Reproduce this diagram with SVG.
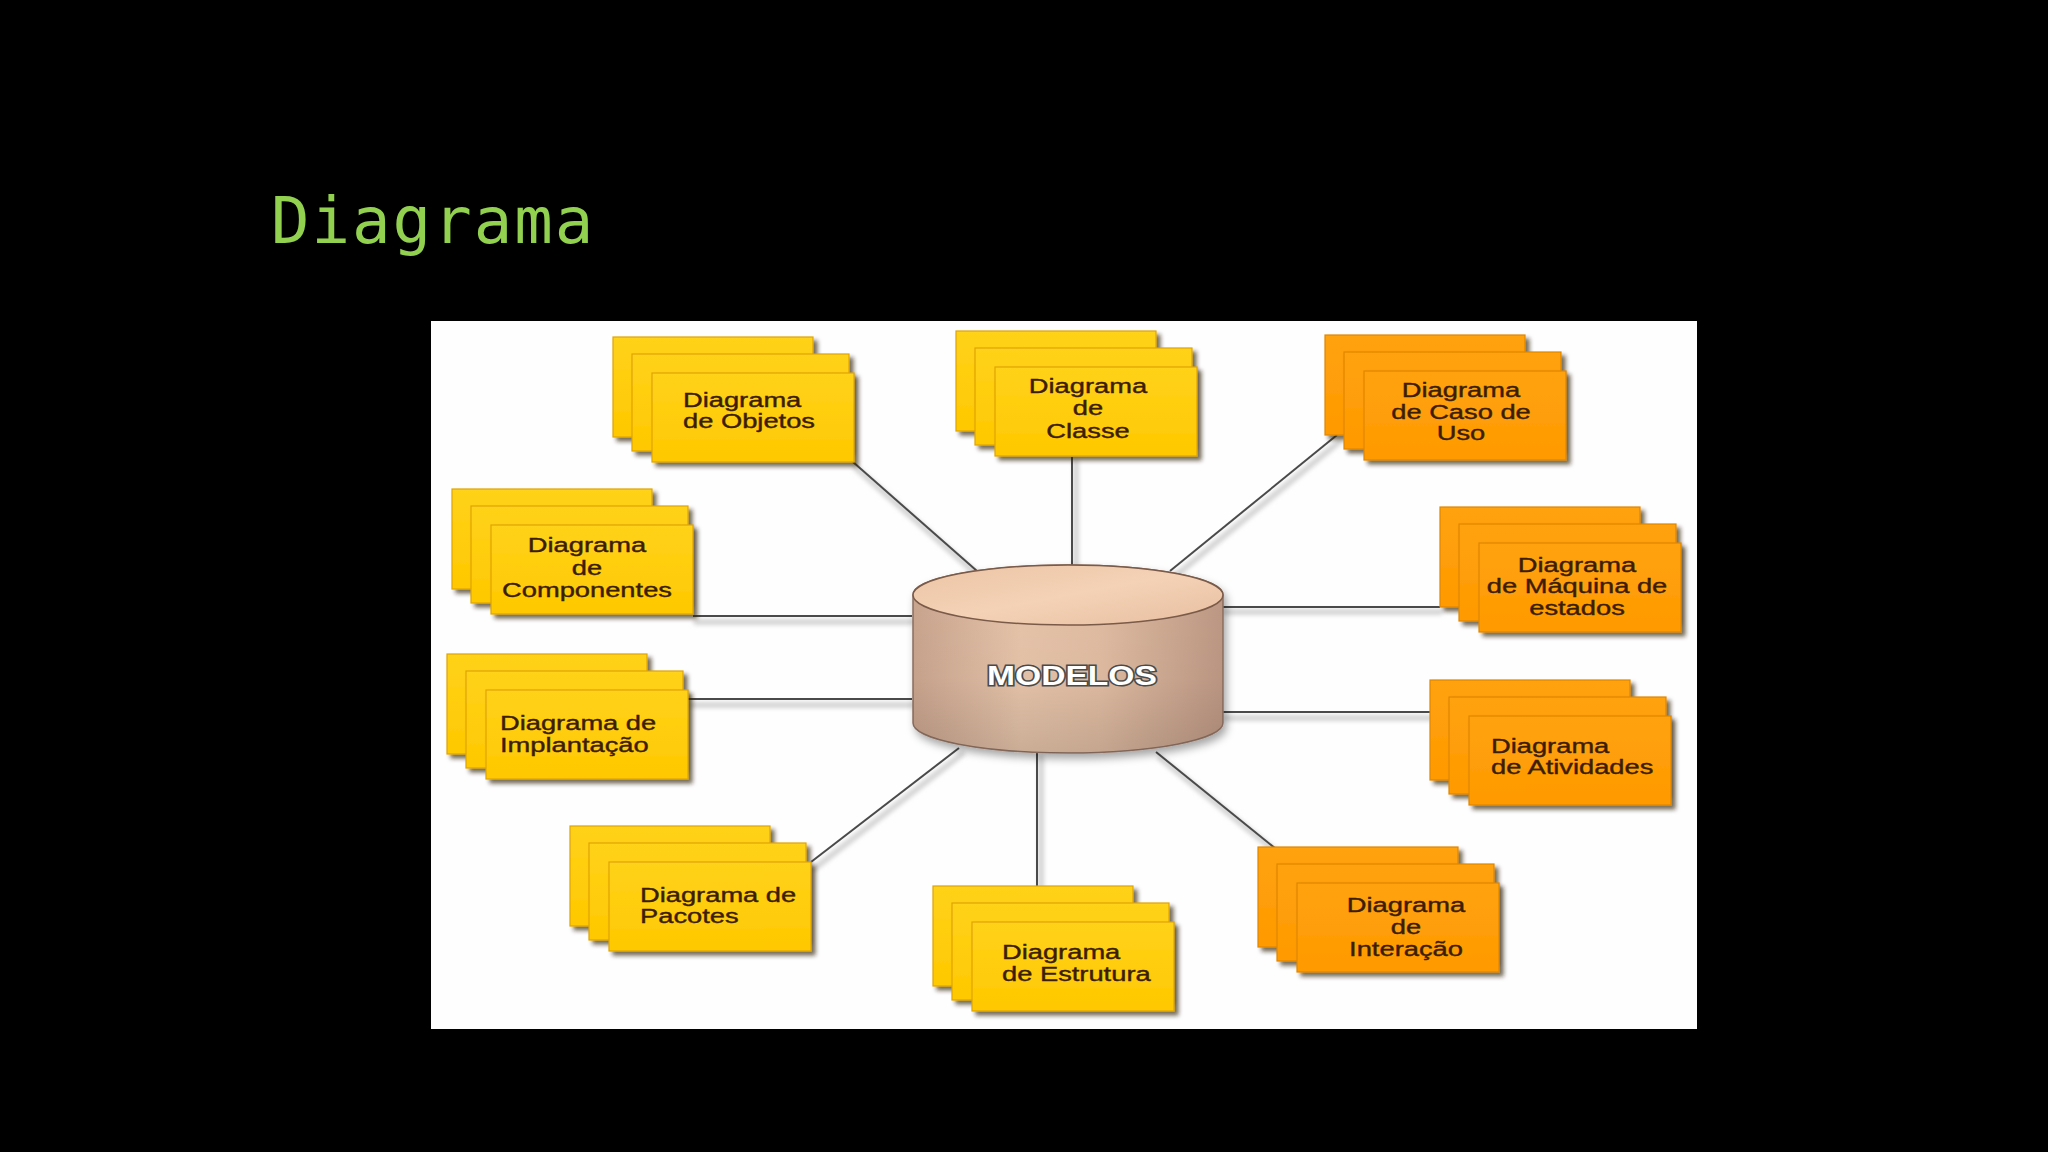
<svg xmlns="http://www.w3.org/2000/svg" xmlns:xlink="http://www.w3.org/1999/xlink" width="2048" height="1152" viewBox="0 0 2048 1152">
<style>
.title{font-family:"DejaVu Sans Mono","Liberation Mono",monospace;font-size:64px;letter-spacing:2px;fill:#92D050}
.lbl{font-family:"Liberation Sans",Arial,sans-serif;font-size:21px;fill:#3b1d00;stroke:#3b1d00;stroke-width:0.4}
.c{text-anchor:middle}
.conn{stroke:#4a4a4a;stroke-width:2;fill:none}
.connsh{stroke:#d4d4d4;stroke-width:6;fill:none;stroke-linecap:round}
.y{fill:url(#gy);stroke:#E0A400;stroke-width:1.2}
.o{fill:url(#go);stroke:#E08600;stroke-width:1.2}
.modelos{font-family:"Liberation Sans",Arial,sans-serif;font-weight:bold;font-size:28px;fill:#fff;stroke:#4a4a4a;stroke-width:3;paint-order:stroke;text-anchor:middle}
</style>
<defs>
<linearGradient id="gy" x1="0" y1="0" x2="0" y2="1"><stop offset="0" stop-color="#FFD21A"/><stop offset="1" stop-color="#FFC800"/></linearGradient>
<linearGradient id="go" x1="0" y1="0" x2="0" y2="1"><stop offset="0" stop-color="#FFA210"/><stop offset="1" stop-color="#FF9A00"/></linearGradient>
<linearGradient id="body" x1="0" y1="0" x2="1" y2="0"><stop offset="0" stop-color="#c9a48e"/><stop offset="0.35" stop-color="#e6c4aa"/><stop offset="0.6" stop-color="#e0bca2"/><stop offset="1" stop-color="#bd9884"/></linearGradient>
<linearGradient id="shade" x1="0" y1="0" x2="0" y2="1"><stop offset="0" stop-color="#000" stop-opacity="0"/><stop offset="0.6" stop-color="#000" stop-opacity="0.02"/><stop offset="1" stop-color="#000" stop-opacity="0.12"/></linearGradient>
<linearGradient id="top" x1="0" y1="0" x2="1" y2="1"><stop offset="0" stop-color="#ecc4a4"/><stop offset="0.5" stop-color="#f4d2b6"/><stop offset="1" stop-color="#e8bea0"/></linearGradient>
<filter id="sh" x="-10%" y="-10%" width="130%" height="140%"><feDropShadow dx="4" dy="4" stdDeviation="2" flood-color="#2a1a00" flood-opacity="0.65"/></filter>
<filter id="bl" x="-10%" y="-10%" width="120%" height="120%"><feGaussianBlur stdDeviation="2"/></filter>
<filter id="csh" x="-10%" y="-10%" width="130%" height="140%"><feDropShadow dx="3" dy="5" stdDeviation="4" flood-color="#000" flood-opacity="0.35"/></filter>
<g id="stackY"><rect class="y" x="0" y="0" width="200" height="100" filter="url(#sh)"/><rect class="y" x="19" y="17" width="217" height="97" filter="url(#sh)"/><rect class="y" x="39" y="36" width="202" height="89" filter="url(#sh)"/></g>
<g id="stackO"><rect class="o" x="0" y="0" width="200" height="100" filter="url(#sh)"/><rect class="o" x="19" y="17" width="217" height="97" filter="url(#sh)"/><rect class="o" x="39" y="36" width="202" height="89" filter="url(#sh)"/></g>
</defs>
<rect x="0" y="0" width="2048" height="1152" fill="#000"/>
<text class="title" x="271" y="243">Diagrama</text>
<rect x="431" y="321" width="1266" height="708" fill="#fefefe"/>

<g id="connectors">
<g filter="url(#bl)">
<line class="connsh" x1="856" y1="468" x2="980" y2="577"/>
<line class="connsh" x1="1076" y1="462" x2="1076" y2="568"/>
<line class="connsh" x1="1340" y1="441" x2="1174" y2="577"/>
<line class="connsh" x1="1226" y1="612" x2="1440" y2="612"/>
<line class="connsh" x1="696" y1="622" x2="912" y2="622"/>
<line class="connsh" x1="692" y1="705" x2="912" y2="705"/>
<line class="connsh" x1="1226" y1="718" x2="1430" y2="718"/>
<line class="connsh" x1="815" y1="868" x2="962" y2="754"/>
<line class="connsh" x1="1041" y1="758" x2="1041" y2="886"/>
<line class="connsh" x1="1160" y1="758" x2="1280" y2="855"/>
</g>
<line class="conn" x1="853" y1="462" x2="977" y2="571"/>
<line class="conn" x1="1072" y1="457" x2="1072" y2="565"/>
<line class="conn" x1="1337" y1="435" x2="1170" y2="571"/>
<line class="conn" x1="1222" y1="607" x2="1440" y2="607"/>
<line class="conn" x1="693" y1="616" x2="912" y2="616"/>
<line class="conn" x1="688" y1="699" x2="912" y2="699"/>
<line class="conn" x1="1222" y1="712" x2="1430" y2="712"/>
<line class="conn" x1="811" y1="862" x2="959" y2="748"/>
<line class="conn" x1="1037" y1="753" x2="1037" y2="886"/>
<line class="conn" x1="1156" y1="752" x2="1276" y2="849"/>
</g>

<g id="modelos">
<path d="M913,595 A155,30 0 0,1 1223,595 L1223,723 A155,30 0 0,1 913,723 Z" fill="url(#body)" stroke="#8a6e60" stroke-width="1.5" filter="url(#csh)"/>
<path d="M913,595 A155,30 0 0,1 1223,595 L1223,723 A155,30 0 0,1 913,723 Z" fill="url(#shade)"/>
<ellipse cx="1068" cy="595" rx="155" ry="30" fill="url(#top)" stroke="#7a5a48" stroke-width="1.5"/>
<g transform="translate(1072,685) scale(1.2 1)"><text class="modelos" x="0" y="0">MODELOS</text></g>
</g>

<g id="objetos" transform="translate(613,337)"><use href="#stackY"/>
<g transform="translate(70,0) scale(1.3 1)"><text class="lbl" x="0" y="70">Diagrama</text><text class="lbl" x="0" y="91">de Objetos</text></g></g>

<g id="classe" transform="translate(956,331)"><use href="#stackY"/>
<g transform="translate(132,0) scale(1.3 1)"><text class="lbl c" x="0" y="62">Diagrama</text><text class="lbl c" x="0" y="84">de</text><text class="lbl c" x="0" y="107">Classe</text></g></g>

<g id="caso-de-uso" transform="translate(1325,335)"><use href="#stackO"/>
<g transform="translate(136,0) scale(1.3 1)"><text class="lbl c" x="0" y="62">Diagrama</text><text class="lbl c" x="0" y="84">de Caso de</text><text class="lbl c" x="0" y="105">Uso</text></g></g>

<g id="componentes" transform="translate(452,489)"><use href="#stackY"/>
<g transform="translate(135,0) scale(1.3 1)"><text class="lbl c" x="0" y="63">Diagrama</text><text class="lbl c" x="0" y="86">de</text><text class="lbl c" x="0" y="108">Componentes</text></g></g>

<g id="maquina-de-estados" transform="translate(1440,507)"><use href="#stackO"/>
<g transform="translate(137,0) scale(1.3 1)"><text class="lbl c" x="0" y="65">Diagrama</text><text class="lbl c" x="0" y="86">de Máquina de</text><text class="lbl c" x="0" y="108">estados</text></g></g>

<g id="implantacao" transform="translate(447,654)"><use href="#stackY"/>
<g transform="translate(53,0) scale(1.3 1)"><text class="lbl" x="0" y="76">Diagrama de</text><text class="lbl" x="0" y="98">Implantação</text></g></g>

<g id="atividades" transform="translate(1430,680)"><use href="#stackO"/>
<g transform="translate(61,0) scale(1.3 1)"><text class="lbl" x="0" y="73">Diagrama</text><text class="lbl" x="0" y="94">de Atividades</text></g></g>

<g id="pacotes" transform="translate(570,826)"><use href="#stackY"/>
<g transform="translate(70,0) scale(1.3 1)"><text class="lbl" x="0" y="76">Diagrama de</text><text class="lbl" x="0" y="97">Pacotes</text></g></g>

<g id="estrutura" transform="translate(933,886)"><use href="#stackY"/>
<g transform="translate(69,0) scale(1.3 1)"><text class="lbl" x="0" y="73">Diagrama</text><text class="lbl" x="0" y="95">de Estrutura</text></g></g>

<g id="interacao" transform="translate(1258,847)"><use href="#stackO"/>
<g transform="translate(148,0) scale(1.3 1)"><text class="lbl c" x="0" y="65">Diagrama</text><text class="lbl c" x="0" y="87">de</text><text class="lbl c" x="0" y="109">Interação</text></g></g>
</svg>
